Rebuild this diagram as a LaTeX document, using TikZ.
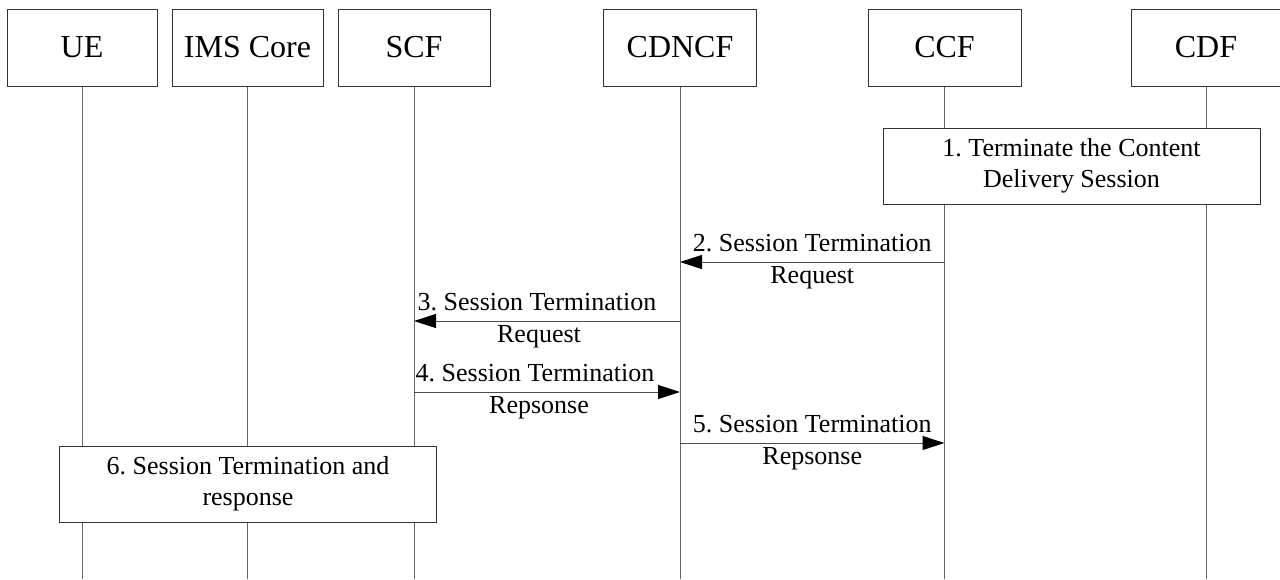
\documentclass[tikz,border=0pt]{standalone}
\usepackage{fontspec}
\setmainfont{Liberation Serif}
\usetikzlibrary{arrows.meta}
\frenchspacing

\tikzset{
    entity/.style={draw=black!80, fill=white, line width=0.5pt, minimum height=38.5pt, inner sep=0pt, font=\fontsize{16}{19}\selectfont},
    lifeline/.style={draw=black!60, line width=0.5pt},
    stepbox/.style={draw=black!80, fill=white, line width=0.5pt, minimum width=188.5pt, minimum height=38pt, align=center, inner sep=0pt, font=\fontsize{13}{15.5}\selectfont},
    msg/.style={draw=black!70, line width=0.5pt, -{Triangle[length=11pt, width=7pt, color=black]}},
    msglabel/.style={inner sep=0pt, font=\fontsize{13}{15.5}\selectfont}
}

\begin{document}
\begin{tikzpicture}[x=0.5pt, y=-0.5pt]
    \useasboundingbox (0,0) rectangle (1280,579);

    % Entities
    \node[entity, minimum width=75pt] (ue) at (82,47.5) {UE};
    \node[entity, minimum width=75.5pt] (ims) at (247.5,47.5) {IMS Core};
    \node[entity, minimum width=76pt] (scf) at (414,47.5) {SCF};
    \node[entity, minimum width=76.5pt] (cdncf) at (680,47.5) {CDNCF};
    \node[entity, minimum width=76.5pt] (ccf) at (944.5,47.5) {CCF};
    \node[entity, minimum width=75pt] (cdf) at (1206,47.5) {CDF};

    % Rows of the messages
    \coordinate (bot) at (0,579);
    \coordinate (r2) at (0,262);
    \coordinate (r3) at (0,321);
    \coordinate (r4) at (0,392);
    \coordinate (r5) at (0,443);

    % Lifelines
    \foreach \e in {ue, ims, scf, cdncf, ccf, cdf}
        \draw[lifeline] (\e.south) -- (\e |- bot);

    % Steps drawn over the lifelines
    \node[stepbox] (step1) at (1071.5,166) {1. Terminate the Content\\Delivery Session};
    \node[stepbox] (step6) at (248,484) {6. Session Termination and\\response};

    % Messages
    \draw[msg] (ccf |- r2) -- (cdncf |- r2)
        node[msglabel, midway, above=5pt] (m2a) {2. Session Termination}
        node[msglabel, midway, below=2pt] (m2b) {Request};
    \draw[msg] (cdncf |- r3) -- (scf |- r3)
        node[msglabel, midway, above=5pt, xshift=-5pt] (m3a) {3. Session Termination}
        node[msglabel, midway, below=2pt, xshift=-4pt] (m3b) {Request};
    \draw[msg] (scf |- r4) -- (cdncf |- r4)
        node[msglabel, midway, above=5pt, xshift=-6pt] (m4a) {4. Session Termination}
        node[msglabel, midway, below=2pt, xshift=-4pt] (m4b) {Repsonse};
    \draw[msg] (cdncf |- r5) -- (ccf |- r5)
        node[msglabel, midway, above=5pt] (m5a) {5. Session Termination}
        node[msglabel, midway, below=2pt] (m5b) {Repsonse};
\end{tikzpicture}
\end{document}
